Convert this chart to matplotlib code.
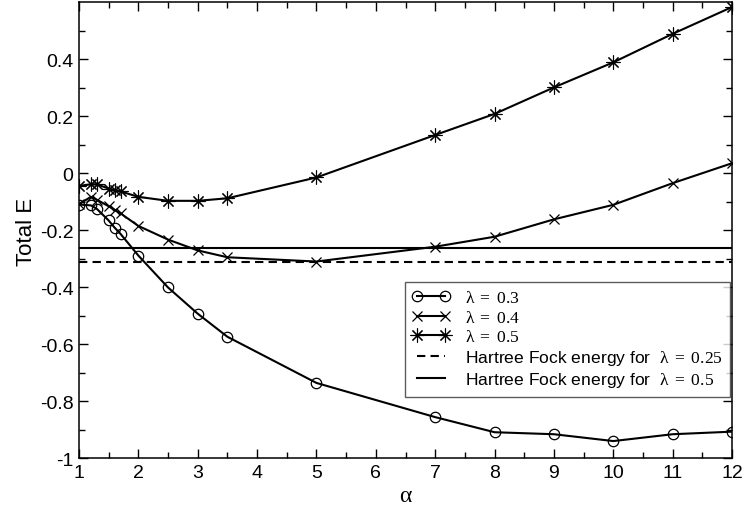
import matplotlib
matplotlib.use("Agg")
import matplotlib.pyplot as plt

plt.rcParams['font.family'] = ['Liberation Sans', 'DejaVu Sans']
plt.rcParams['mathtext.fontset'] = 'custom'
plt.rcParams['mathtext.rm'] = 'Liberation Serif'
plt.rcParams['mathtext.it'] = 'Liberation Serif'

# variational parameter alpha
alpha = [1, 1.2, 1.3, 1.5, 1.6, 1.7, 2, 2.5, 3, 3.5, 5, 7, 8, 9, 10, 11, 12]

# total energy for each coupling lambda
e_03 = [-0.109, -0.112, -0.124, -0.165, -0.19, -0.212, -0.288, -0.40, -0.492,
        -0.573, -0.735, -0.855, -0.908, -0.915, -0.939, -0.915, -0.906]
e_04 = [-0.108, -0.082, -0.092, -0.115, -0.127, -0.14, -0.184, -0.232, -0.27,
        -0.294, -0.309, -0.257, -0.222, -0.161, -0.11, -0.034, 0.036]
e_05 = [-0.044, -0.038, -0.038, -0.053, -0.059, -0.063, -0.082, -0.096, -0.096,
        -0.087, -0.014, 0.135, 0.209, 0.302, 0.39, 0.49, 0.584]

# Hartree Fock reference energies
hf_025 = -0.311
hf_05 = -0.263

lam = r'$\mathrm{λ}\;=\;%s$'

fig = plt.figure(figsize=(7.45, 5.06), dpi=100)
ax = fig.add_axes([0.106, 0.092, 0.8766, 0.9011])

ax.plot(alpha, e_03, color='k', lw=1.5, marker='o', ms=7.5, mfc='none', mew=0.9,
        label=lam % '0.3')
ax.plot(alpha, e_04, color='k', lw=1.5, marker='x', ms=7, mew=0.9,
        label=lam % '0.4')
ax.plot(alpha, e_05, color='k', lw=1.5, marker=(8, 2, 0), ms=10, mew=0.8,
        label=lam % '0.5')
ax.axhline(hf_025, color='k', lw=1.5, linestyle=(0, (4, 2.5)),
           label='Hartree Fock energy for  ' + lam % '0.25')
ax.axhline(hf_05, color='k', lw=1.5,
           label='Hartree Fock energy for  ' + lam % '0.5')

ax.set_xlim(1, 12)
ax.set_ylim(-1, 0.6)
ax.set_xticks(range(1, 13))
ax.set_xticks([x + 0.5 for x in range(1, 12)], minor=True)
ax.set_yticks([-1, -0.8, -0.6, -0.4, -0.2, 0, 0.2, 0.4])
ax.set_yticklabels(['-1', '-0.8', '-0.6', '-0.4', '-0.2', '0', '0.2', '0.4'])
ax.set_yticks([-0.9, -0.7, -0.5, -0.3, -0.1, 0.1, 0.3, 0.5], minor=True)
ax.tick_params(which='both', direction='in', top=True, right=True,
               labelsize=14, width=1.0)
ax.tick_params(which='major', length=6.5, pad=4)
ax.tick_params(which='minor', length=4.3)
for s in ax.spines.values():
    s.set_linewidth(1.1)

ax.set_xlabel('α', family='Liberation Serif', fontsize=17, labelpad=3)
ax.set_ylabel('Total E', fontsize=16, labelpad=2)

leg = ax.legend(loc='upper left', bbox_to_anchor=(0.499, 0.387), borderaxespad=0,
                fontsize=12.6, numpoints=2, handlelength=2.2, labelspacing=0.2,
                frameon=True, fancybox=False, edgecolor='#333333',
                borderpad=0.42, handletextpad=0.8)
leg.get_frame().set_linewidth(1.0)

fig.savefig('out.png', dpi=100)
